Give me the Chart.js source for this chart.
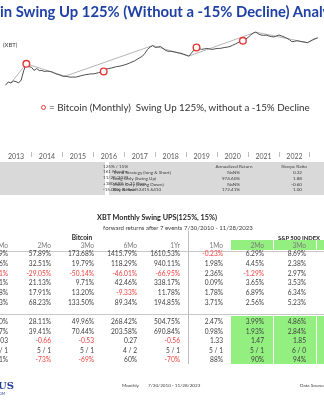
<!DOCTYPE html>
<html>
<head>
<meta charset="utf-8">
<script src="https://cdn.jsdelivr.net/npm/chart.js@4.4.0/dist/chart.umd.min.js"></script>
<style>
html, body { margin: 0; padding: 0; background: #fff; }
body { width: 324px; height: 400px; position: relative; overflow: hidden; font-family: Lato, "Open Sans", sans-serif; color: #404040; }
.txt { position: absolute; white-space: pre; }
.box { position: absolute; }
#chartBox { position: absolute; left: 0; top: 20px; width: 324px; height: 150px; }
</style>
</head>
<body>
<div id="chartBox"><canvas id="xbtChart" width="324" height="150"></canvas></div>
<script>
// monthly XBT closes, first value = Jan 2013 (log scale in the picture)
var firstYear = 2013;
var xbtMonthly = [
  60, 75, 72, 105, 93, 119, 110, 93, 135, 464, 1100, 762,
  700, 464, 595, 464, 464, 410, 430, 410, 380, 320, 283, 260,
  221, 221, 210, 195, 200, 195, 210, 230, 250, 270, 283, 300,
  300, 320, 350, 380, 410, 560, 595, 640, 700, 762, 800, 862,
  950, 1050, 1200, 1400, 1600, 2000, 2400, 2900, 4300, 7000, 9500, 11600,
  9060, 9500, 10250, 8000, 6200, 5520, 5520, 5200, 4900, 4500, 4300, 3800,
  3360, 2970, 4300, 6500, 9060, 8000, 7070, 7500, 8000, 7500, 7070, 7500,
  8000, 8000, 8500, 9060, 9500, 10250, 12000, 14000, 16800, 19000, 21500, 26000,
  33000, 45000, 58000, 65600, 52000, 45300, 43000, 45300, 40000, 37000, 35300, 40000,
  45300, 40000, 35300, 30000, 25000, 19000, 20000, 21500, 20000, 19000, 18000, 16800,
  20000, 24400, 28000, 31200
];
// swing high / low path (light line)
var swingMonths = ['2013-05', '2013-11', '2015-02', '2017-12', '2019-02', '2021-04', '2022-12', '2023-04'];
var swingPrice = [93, 1100, 221, 11600, 2970, 65600, 16800, 31200];
// swing up 125% events (red circles)
var eventMonths = ['2013-11', '2016-05', '2019-05', '2020-11'];
var eventPrice = [1100, 410, 9060, 21500];
var yearLabels = ['2013', '2014', '2015', '2016', '2017', '2018', '2019', '2020', '2021', '2022', '2023'];

// stats boxes
var setupLines = ['125% / 15%', '161 Months', '11/28/2023', '+180.68% in 11 Days', '-15.00%, Below 52415.6410'];
var strategyNames = ['Trend Strategy (long & Short)', 'Long Only (Swing Up)', 'Short Only (Swing Down)', 'Buy & Hold'];
var annualReturn = ['NaN%', '974.60%', 'NaN%', '172.41%'];
var sharpeRatio = ['0.32', '1.88', '-0.60', '1.00'];

// forward returns table
var colHeaders = ['1Mo', '2Mo', '3Mo', '6Mo', '1Yr', '1Mo', '2Mo', '3Mo'];
var eventRows = [
  ['55.29%', '57.89%', '173.68%', '1415.79%', '1610.53%', '-0.23%', '6.29%', '8.69%'],
  ['30.16%', '32.51%', '19.79%', '118.29%', '940.11%', '1.98%', '4.45%', '2.38%'],
  ['-16.71%', '-29.05%', '-50.14%', '-46.01%', '-66.95%', '2.36%', '-1.29%', '2.97%'],
  ['18.11%', '21.13%', '9.71%', '42.46%', '338.17%', '0.09%', '3.65%', '3.53%'],
  ['10.58%', '17.91%', '13.20%', '-9.33%', '11.78%', '1.78%', '6.89%', '6.34%'],
  ['49.33%', '68.23%', '133.50%', '89.34%', '194.85%', '3.71%', '2.56%', '5.23%']
];
var summaryRows = [
  ['25.60%', '28.11%', '49.96%', '268.42%', '504.75%', '2.47%', '3.99%', '4.86%'],
  ['19.07%', '39.41%', '70.44%', '203.58%', '690.84%', '0.98%', '1.93%', '2.84%'],
  ['1.03', '-0.66', '-0.53', '0.27', '-0.56', '1.33', '1.47', '1.85'],
  ['5 / 1', '5 / 1', '5 / 1', '4 / 2', '5 / 1', '5 / 1', '5 / 1', '6 / 0'],
  ['71%', '-73%', '-69%', '60%', '-70%', '88%', '90%', '94%']
];

function put(text, x, y, o) {
  o = o || {};
  var size = o.size || 7, lh = Math.round(size * 1.4);
  var d = document.createElement('div');
  d.className = 'txt';
  d.textContent = text;
  d.style.fontSize = size + 'px';
  d.style.lineHeight = lh + 'px';
  d.style.top = (y - lh / 2) + 'px';
  d.style.color = o.color || '#404040';
  if (o.bold) d.style.fontWeight = 'bold';
  if (o.family) d.style.fontFamily = o.family;
  if (o.align === 'right') { d.style.left = (x - 300) + 'px'; d.style.width = '300px'; d.style.textAlign = 'right'; }
  else if (o.align === 'center') { d.style.left = (x - 200) + 'px'; d.style.width = '400px'; d.style.textAlign = 'center'; }
  else d.style.left = x + 'px';
  document.body.appendChild(d);
  return d;
}
function rect(x, y, w, h, bg) {
  var d = document.createElement('div');
  d.className = 'box';
  d.style.left = x + 'px'; d.style.top = y + 'px';
  d.style.width = w + 'px'; d.style.height = h + 'px';
  d.style.background = bg;
  document.body.appendChild(d);
  return d;
}
function textWidth(text, size, bold) {
  var s = document.createElement('span');
  s.className = 'txt';
  s.style.fontSize = size + 'px';
  if (bold) s.style.fontWeight = 'bold';
  s.textContent = text;
  document.body.appendChild(s);
  var w = s.getBoundingClientRect().width;
  document.body.removeChild(s);
  return w;
}

// title, cropped on both sides like the source
var titleText = 'Bitcoin Swing Up 125% (Without a -15% Decline) Analysis';
var titleSize = 16 * 323 / textWidth('in Swing Up 125% (Without a -15% Decline) Anal', 16, true);
put(titleText, -textWidth('Bitco', titleSize, true), 11, { size: titleSize, bold: true, color: '#1f41a6' });

put('(XBT)', 3, 45, { size: 6 });

// legend line
var legText = '= Bitcoin (Monthly)  Swing Up 125%, without a -15% Decline';
var legSize = 10 * 261 / textWidth(legText, 10);
var dot = rect(40.5, 104.5, 3.2, 3.2, '#fff');
dot.style.border = '1.3px solid #e53935';
dot.style.borderRadius = '50%';
put(legText, 49, 107, { size: legSize, color: '#333' });

// stats boxes
rect(0, 162, 105, 33, '#d9d9d9');
rect(109, 162, 215, 33, '#d9d9d9');
setupLines.forEach(function (s, i) { put(s, 103, 165.5 + i * 5.8, { size: 4.6 }); });
put('Annualized Return', 234, 166, { size: 4.6, align: 'center' });
put('Sharpe Ratio', 294, 166, { size: 4.6, align: 'center' });
strategyNames.forEach(function (s, i) {
  var y = 172 + i * 5.8;
  put(s, 113, y, { size: 4.6 });
  put(annualReturn[i], 240, y, { size: 4.6, align: 'right' });
  put(sharpeRatio[i], 302, y, { size: 4.6, align: 'right' });
});

// forward returns table
var t1 = 'XBT Monthly Swing UPS(125%, 15%)';
put(t1, 157, 217.5, { size: 7.5 * 120 / textWidth(t1, 7.5, true), bold: true, align: 'center', color: '#262626' });
var t2 = 'forward returns after 7 events 7/30/2010 - 11/28/2023';
put(t2, 178, 228, { size: 7 * 150 / textWidth(t2, 7), align: 'center' });
put('Bitcoin', 82, 237.5, { size: 6.5, bold: true, align: 'center', color: '#262626' });
var spx = 'S&P 500 INDEX';
put(spx, 299, 238, { size: 6.5 * 42 / textWidth(spx, 6.5, true), bold: true, align: 'center', color: '#262626' });

var colRight = [8, 51, 94, 137, 180, 223, 264, 306];
var greenLeft = [231, 274, 317];
var green = '#93ef80';
greenLeft.forEach(function (gx) {
  rect(gx, 239.5, 42, 10.5, green);
  rect(gx, 316, 42, 48, green);
});
rect(0, 250.5, 324, 0.8, '#c8c8c8');
rect(0, 313.5, 324, 0.8, '#c8c8c8');
rect(188, 231, 0.8, 133, '#bdbdbd');

colHeaders.forEach(function (h, c) { put(h, colRight[c], 245, { size: 6.6, align: 'right', color: '#7a7a7a' }); });
function cellColor(v) { return v.charAt(0) === '-' ? '#f23c3c' : '#404040'; }
eventRows.forEach(function (row, r) {
  row.forEach(function (v, c) { put(v, colRight[c], 253.5 + r * 9.8, { size: 6.6, align: 'right', color: cellColor(v) }); });
});
summaryRows.forEach(function (row, r) {
  row.forEach(function (v, c) { put(v, colRight[c], 321.5 + r * 9.5, { size: 6.6, align: 'right', color: cellColor(v) }); });
});

// footer
put('US', -2, 386, { size: 10, bold: true, family: '"DejaVu Serif", serif', color: '#1f3d99' });
put('.COM', -4, 394, { size: 3.5, color: '#1f3d99' });
put('Monthly', 122, 384.5, { size: 4.6 });
put('7/30/2010 - 11/28/2023', 148, 384.5, { size: 4.6 });
put('Data Sources', 300, 384.5, { size: 4.6 });

// chart
var X_MIN = 2013.156, X_MAX = 2023.28;
function monthToYear(m) { var p = m.split('-'); return +p[0] + (p[1] - 1) / 12; }
var xbtPoints = xbtMonthly.map(function (v, i) { return { x: firstYear + i / 12, y: v }; });
var swingPoints = swingMonths.map(function (m, i) { return { x: monthToYear(m), y: swingPrice[i] }; });
var eventPoints = eventMonths.map(function (m, i) { return { x: monthToYear(m), y: eventPrice[i] }; });

new Chart(document.getElementById('xbtChart'), {
  type: 'line',
  data: {
    datasets: [
      { data: eventPoints, showLine: false, pointRadius: 3.3, pointBorderWidth: 1.4,
        pointBorderColor: '#e53935', pointBackgroundColor: '#ffffff', order: 0 },
      { data: xbtPoints, borderColor: '#4d4d4d', borderWidth: 1, pointRadius: 0, order: 1 },
      { data: swingPoints, borderColor: '#b5b5b5', borderWidth: 1, pointRadius: 0, order: 2 }
    ]
  },
  options: {
    responsive: false,
    animation: false,
    devicePixelRatio: 1,
    layout: { padding: 0 },
    plugins: { legend: { display: false }, tooltip: { enabled: false } },
    scales: {
      x: {
        type: 'linear', min: X_MIN, max: X_MAX,
        border: { display: false },
        grid: {
          drawOnChartArea: false, drawTicks: true, tickLength: 5,
          color: function (c) { return c.tick && c.tick.value % 1 === 0 ? '#bdbdbd' : 'rgba(0,0,0,0)'; }
        },
        afterBuildTicks: function (s) {
          var t = [];
          yearLabels.forEach(function (y) {
            var v = +y;
            if (v >= X_MIN && v <= X_MAX) t.push({ value: v });
            if (v + 0.5 >= X_MIN && v + 0.5 <= X_MAX) t.push({ value: v + 0.5 });
          });
          s.ticks = t;
        },
        afterFit: function (s) { s.height = 18; },
        ticks: {
          autoSkip: false, maxRotation: 0, padding: -4, color: '#595959',
          font: { family: 'Lato', size: 7 },
          callback: function (v) { return v % 1 ? String(Math.floor(v)) : ''; }
        }
      },
      y: { type: 'logarithmic', display: false, min: 0.0125, max: 156200 }
    }
  }
});
</script>
</body>
</html>
